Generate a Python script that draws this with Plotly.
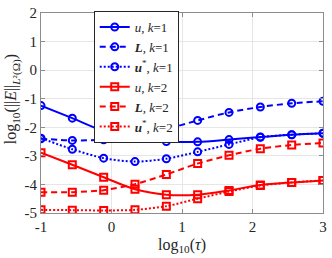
import numpy as np
import plotly.graph_objects as go

log_tau = [-1.0, -0.556, -0.111, 0.333, 0.778, 1.222, 1.667, 2.111, 2.556, 3.0]

u_k1 = [-1.24, -1.68, -2.13, -2.36, -2.50, -2.51, -2.43, -2.34, -2.26, -2.21]
L_k1 = [-2.40, -2.46, -2.44, -2.37, -2.07, -1.76, -1.48, -1.29, -1.16, -1.09]
us_k1 = [-2.38, -2.77, -3.08, -3.20, -3.10, -2.86, -2.60, -2.35, -2.26, -2.21]
u_k2 = [-2.89, -3.31, -3.75, -4.17, -4.36, -4.36, -4.21, -4.02, -3.93, -3.86]
L_k2 = [-4.27, -4.27, -4.20, -3.99, -3.65, -3.27, -2.98, -2.75, -2.62, -2.55]
us_k2 = [-4.89, -4.90, -4.91, -4.89, -4.76, -4.50, -4.25, -4.04, -3.93, -3.86]

names = [
    "<i>u</i>, <i>k</i>=1",
    "<b><i>L</i></b>, <i>k</i>=1",
    "<b><i>u</i></b><sup>*</sup>, <i>k</i>=1",
    "<i>u</i>, <i>k</i>=2",
    "<b><i>L</i></b>, <i>k</i>=2",
    "<b><i>u</i></b><sup>*</sup>, <i>k</i>=2",
]
x_ticks = [-1, 0, 1, 2, 3]
x_ticktext = ["-1", "0", "1", "2", "3"]
y_ticks = [-5, -4, -3, -2, -1, 0, 1, 2]
y_ticktext = ["-5", "-4", "-3", "-2", "-1", "0", "1", "2"]

series = [u_k1, L_k1, us_k1, u_k2, L_k2, us_k2]
colors = ["#0000FF"] * 3 + ["#FF0000"] * 3
dashes = ["solid", "6px,4px", "2px,2px"] * 2
symbols = ["circle-open"] * 3 + ["square-open"] * 3

fig = go.Figure()
for ys, nm, c, d, s in zip(series, names, colors, dashes, symbols):
    fig.add_trace(go.Scatter(
        x=log_tau, y=ys, name=nm, mode="lines+markers",
        line=dict(color=c, width=2, dash=d, shape="spline", smoothing=0.8),
        marker=dict(symbol=s, size=7, color=c, line=dict(width=2, color=c)),
    ))

font_family = "Liberation Serif"
txt = "#262626"
axis_common = dict(
    showgrid=True, gridcolor="#e6e6e6", gridwidth=1,
    showline=True, linecolor="#8c8c8c", linewidth=1, mirror="ticks",
    ticks="inside", ticklen=4, tickcolor="#8c8c8c",
    zeroline=False, ticklabeloverflow="allow",
    tickfont=dict(family=font_family, size=15, color=txt),
)
fig.update_xaxes(range=[-1, 3], tickvals=x_ticks, ticktext=x_ticktext, **axis_common)
fig.update_yaxes(range=[-5, 2], tickvals=y_ticks, ticktext=y_ticktext, **axis_common)

fig.add_annotation(text="log<sub>10</sub>(<i>τ</i>)", xref="paper", yref="paper",
                   x=0.5, y=-0.163, xanchor="center", yanchor="middle", showarrow=False,
                   font=dict(family=font_family, size=16, color=txt))
fig.add_annotation(text="log<sub>10</sub>(||<i>E</i>||<sub><i>L</i>²(Ω)</sub>)",
                   xref="paper", yref="paper", x=-0.102, y=0.57, textangle=-90,
                   xanchor="center", yanchor="middle", showarrow=False,
                   font=dict(family=font_family, size=16, color=txt))

fig.update_layout(
    width=332, height=258,
    margin=dict(l=41, r=8, t=5, b=45),
    paper_bgcolor="white", plot_bgcolor="white",
    font=dict(family=font_family, color=txt),
    legend=dict(x=0.187, y=1.01, xanchor="left", yanchor="top",
                bgcolor="white", bordercolor="#262626", borderwidth=1,
                font=dict(family=font_family, size=13, color=txt),
                itemwidth=30, tracegroupgap=0, maxheight=1),
    showlegend=True,
)
fig.write_html("out.html", config={"displayModeBar": False},
               post_script="document.body.style.margin='0';document.body.style.padding='0';")
